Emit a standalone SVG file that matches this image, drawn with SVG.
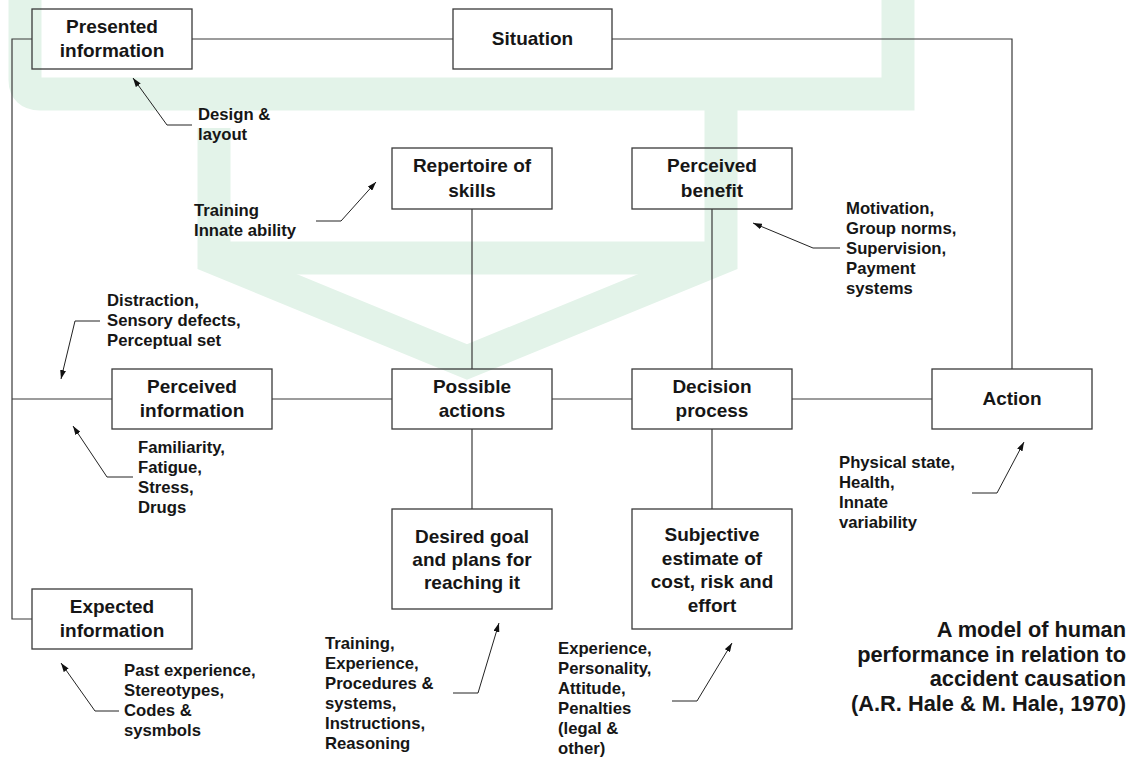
<svg xmlns="http://www.w3.org/2000/svg" width="1141" height="758" viewBox="0 0 1141 758">
<defs>
<style>
.wm{fill:none;stroke:#e3f3e9;stroke-width:33;stroke-linejoin:miter}
.box{fill:none;stroke:#3a3a3a;stroke-width:1.3}
.ln{fill:none;stroke:#3a3a3a;stroke-width:1.2}
.ar{fill:none;stroke:#222;stroke-width:1}
.t{font-family:"Liberation Sans",Arial,sans-serif;font-weight:bold;font-size:19px;fill:#161616;text-anchor:middle}
.a{font-family:"Liberation Sans",Arial,sans-serif;font-weight:bold;font-size:16.7px;fill:#161616}
.ti{font-family:"Liberation Sans",Arial,sans-serif;font-weight:bold;font-size:21.8px;fill:#161616;text-anchor:end}
</style>
<marker id="ah" markerUnits="userSpaceOnUse" markerWidth="9" markerHeight="6" refX="9" refY="3" orient="auto">
<path d="M0,0 L9,3 L0,6 z" fill="#111"/>
</marker>
</defs>
<rect width="1141" height="758" fill="#fff"/>
<g id="watermark">
<path class="wm" d="M25,0 V80 Q25,94 40,94 H898 V0"/>
<path class="wm" d="M214,128 V258 L467,362 L721,258 V110"/>
<path class="wm" d="M214,258 H721"/>
</g>
<g id="connectors">
<path class="ln" d="M32,39 H12 V619 H32"/>
<path class="ln" d="M12,399 H112"/>
<path class="ln" d="M192,39 H453"/>
<path class="ln" d="M612,39 H1012 V369"/>
<path class="ln" d="M272,399 H392"/>
<path class="ln" d="M552,399 H632"/>
<path class="ln" d="M792,399 H932"/>
<path class="ln" d="M472,209 V369"/>
<path class="ln" d="M712,209 V369"/>
<path class="ln" d="M472,429 V509"/>
<path class="ln" d="M712,429 V509"/>
<path class="ar" marker-end="url(#ah)" d="M192,125 H167 L133,78"/>
<path class="ar" marker-end="url(#ah)" d="M316,221 H341 L376,182"/>
<path class="ar" marker-end="url(#ah)" d="M840,248 H813 L753,223"/>
<path class="ar" marker-end="url(#ah)" d="M100,321 H75 L61,379"/>
<path class="ar" marker-end="url(#ah)" d="M133,477 H107 L73,426"/>
<path class="ar" marker-end="url(#ah)" d="M972,493 H997 L1024,442"/>
<path class="ar" marker-end="url(#ah)" d="M453,693 H478 L499,623"/>
<path class="ar" marker-end="url(#ah)" d="M672,701 H697 L732,643"/>
<path class="ar" marker-end="url(#ah)" d="M119,711 H95 L61,663"/>
</g>
<g id="n-presented"><rect class="box" x="32" y="9" width="160" height="60"/><text class="t" x="112" y="33">Presented</text><text class="t" x="112" y="57">information</text></g>
<g id="n-situation"><rect class="box" x="453" y="9" width="159" height="60"/><text class="t" x="532.5" y="45">Situation</text></g>
<g id="n-repertoire"><rect class="box" x="392" y="148" width="160" height="61"/><text class="t" x="472" y="172">Repertoire of</text><text class="t" x="472" y="197">skills</text></g>
<g id="n-benefit"><rect class="box" x="632" y="148" width="160" height="61"/><text class="t" x="712" y="172">Perceived</text><text class="t" x="712" y="197">benefit</text></g>
<g id="n-perceived"><rect class="box" x="112" y="369" width="160" height="60"/><text class="t" x="192" y="393">Perceived</text><text class="t" x="192" y="417">information</text></g>
<g id="n-possible"><rect class="box" x="392" y="369" width="160" height="60"/><text class="t" x="472" y="393">Possible</text><text class="t" x="472" y="417">actions</text></g>
<g id="n-decision"><rect class="box" x="632" y="369" width="160" height="60"/><text class="t" x="712" y="393">Decision</text><text class="t" x="712" y="417">process</text></g>
<g id="n-action"><rect class="box" x="932" y="369" width="160" height="60"/><text class="t" x="1012" y="405">Action</text></g>
<g id="n-desired"><rect class="box" x="392" y="509" width="160" height="100"/><text class="t" x="472" y="543">Desired goal</text><text class="t" x="472" y="566">and plans for</text><text class="t" x="472" y="589">reaching it</text></g>
<g id="n-subjective"><rect class="box" x="632" y="509" width="160" height="120"/><text class="t" x="712" y="541">Subjective</text><text class="t" x="712" y="564.5">estimate of</text><text class="t" x="712" y="588">cost, risk and</text><text class="t" x="712" y="611.5">effort</text></g>
<g id="n-expected"><rect class="box" x="32" y="589" width="160" height="60"/><text class="t" x="112" y="613">Expected</text><text class="t" x="112" y="637">information</text></g>
<g id="labels">
<text class="a" x="198" y="120">Design &amp;</text><text class="a" x="198" y="140">layout</text>
<text class="a" x="194" y="216">Training</text><text class="a" x="194" y="236">Innate ability</text>
<text class="a" x="846" y="214">Motivation,</text><text class="a" x="846" y="234">Group norms,</text><text class="a" x="846" y="254">Supervision,</text><text class="a" x="846" y="274">Payment</text><text class="a" x="846" y="294">systems</text>
<text class="a" x="107" y="306">Distraction,</text><text class="a" x="107" y="326">Sensory defects,</text><text class="a" x="107" y="346">Perceptual set</text>
<text class="a" x="138" y="453">Familiarity,</text><text class="a" x="138" y="473">Fatigue,</text><text class="a" x="138" y="493">Stress,</text><text class="a" x="138" y="513">Drugs</text>
<text class="a" x="839" y="468">Physical state,</text><text class="a" x="839" y="488">Health,</text><text class="a" x="839" y="508">Innate</text><text class="a" x="839" y="528">variability</text>
<text class="a" x="325" y="649">Training,</text><text class="a" x="325" y="669">Experience,</text><text class="a" x="325" y="689">Procedures &amp;</text><text class="a" x="325" y="709">systems,</text><text class="a" x="325" y="729">Instructions,</text><text class="a" x="325" y="749">Reasoning</text>
<text class="a" x="558" y="654">Experience,</text><text class="a" x="558" y="674">Personality,</text><text class="a" x="558" y="694">Attitude,</text><text class="a" x="558" y="714">Penalties</text><text class="a" x="558" y="734">(legal &amp;</text><text class="a" x="558" y="754">other)</text>
<text class="a" x="124" y="676">Past experience,</text><text class="a" x="124" y="696">Stereotypes,</text><text class="a" x="124" y="716">Codes &amp;</text><text class="a" x="124" y="736">sysmbols</text>
</g>
<g id="title">
<text class="ti" x="1126" y="637">A model of human</text>
<text class="ti" x="1126" y="661.5">performance in relation to</text>
<text class="ti" x="1126" y="686">accident causation</text>
<text class="ti" x="1126" y="710.5">(A.R. Hale &amp; M. Hale, 1970)</text>
</g>
</svg>
